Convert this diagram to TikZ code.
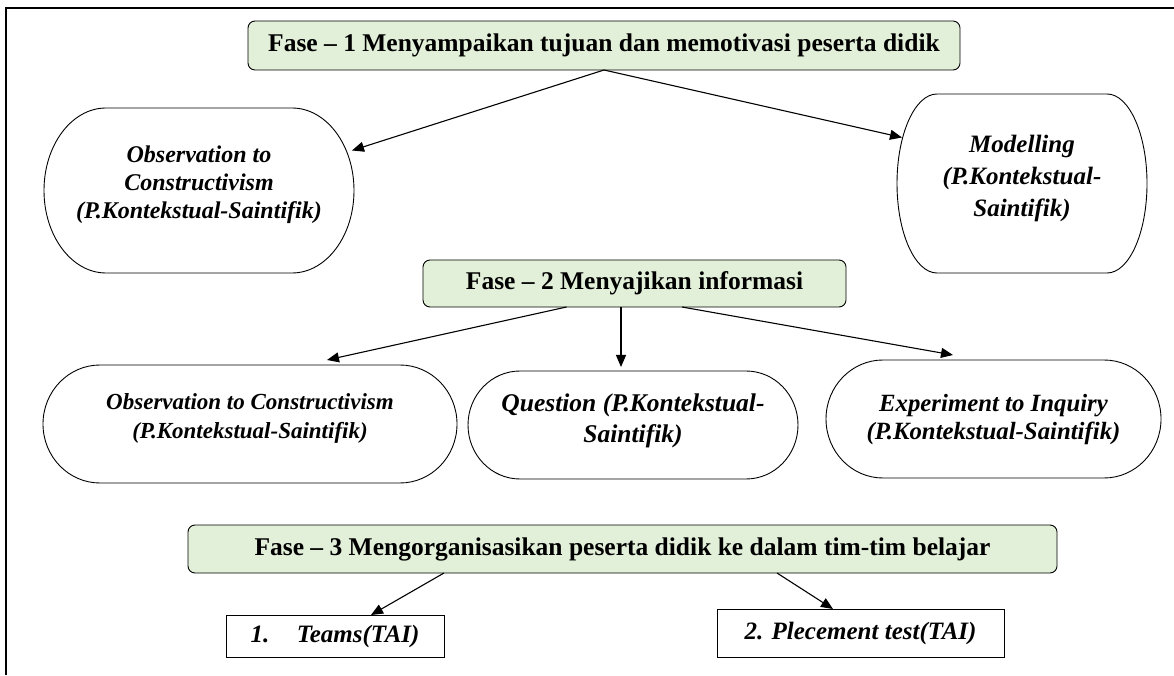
\documentclass[tikz,border=0pt]{standalone}
\usepackage{fontspec}
\setmainfont{Liberation Serif}
\usetikzlibrary{arrows.meta,calc}
\definecolor{fasegreen}{HTML}{E2EFD9}
\newcommand\stadiumshape[2]{\draw[line width=0.9pt] let \p1=(#1.north west), \p2=(#1.south east), \n1={(\y1-\y2)/2} in (\x1+#2,\y1) -- (\x2-#2,\y1) arc[start angle=90,end angle=-90,x radius=#2,y radius=\n1] -- (\x1+#2,\y2) arc[start angle=270,end angle=90,x radius=#2,y radius=\n1] -- cycle;}
\begin{document}
\begin{tikzpicture}[x=1pt,y=1pt,
  fasebox/.style={draw, line width=0.9pt, fill=fasegreen, rounded corners=7pt, inner sep=0pt, outer sep=0pt,
    font=\fontsize{25.5}{30}\selectfont\bfseries},
  ovalbox/.style={inner sep=0pt, outer sep=0pt},
  ovaltext/.style={inner sep=0pt, align=center},
  plainbox/.style={draw, line width=0.9pt, inner sep=0pt, outer sep=0pt,
    font=\fontsize{25}{30}\selectfont\bfseries\itshape},
  arr/.style={line width=1.1pt, -{Triangle[length=12pt,width=10pt]}}]
\useasboundingbox (0,0) rectangle (1174,675);
% frame
\draw[line width=1.6pt] (6,0) -- (6,667) -- (1174,667);
% phase boxes
\node[fasebox, minimum width=712, minimum height=49] (f1) at (604,629.5) {Fase -- 1 Menyampaikan tujuan dan memotivasi peserta didik};
\node[fasebox, minimum width=423, minimum height=47] (f2) at (634.5,391.5) {Fase -- 2 Menyajikan informasi};
\node[fasebox, minimum width=869, minimum height=48] (f3) at (622.5,126) {Fase -- 3 Mengorganisasikan peserta didik ke dalam tim-tim belajar};
% ovals phase 1
\node[ovalbox, minimum width=310, minimum height=165] (o1) at (199,484.5) {};
\stadiumshape{o1}{62pt}
\node[ovaltext, font=\fontsize{24}{28}\selectfont\bfseries\itshape] (o1t) at ($(o1)+(0,6)$) {Observation to\\Constructivism\\(P.Kontekstual-Saintifik)};
\node[ovalbox, minimum width=250, minimum height=179] (m) at (1022,491.5) {};
\stadiumshape{m}{40pt}
\node[ovaltext, font=\fontsize{25}{32}\selectfont\bfseries\itshape] (mt) at ($(m)+(0,5)$) {Modelling\\(P.Kontekstual-\\Saintifik)};
% ovals phase 2
\node[ovalbox, minimum width=414, minimum height=118] (o2) at (250,251) {};
\stadiumshape{o2}{57pt}
\node[ovaltext, font=\fontsize{23}{29}\selectfont\bfseries\itshape] (o2t) at ($(o2)+(0,6)$) {Observation to Constructivism\\(P.Kontekstual-Saintifik)};
\node[ovalbox, minimum width=330, minimum height=108] (q) at (633,250) {};
\stadiumshape{q}{52pt}
\node[ovaltext, font=\fontsize{25.5}{31}\selectfont\bfseries\itshape] (qt) at ($(q)+(0,4)$) {Question (P.Kontekstual-\\Saintifik)};
\node[ovalbox, minimum width=335, minimum height=118] (e) at (993.5,256) {};
\stadiumshape{e}{57pt}
\node[ovaltext, font=\fontsize{24.8}{28}\selectfont\bfseries\itshape] (et) at ($(e)+(0,-1)$) {Experiment to Inquiry\\(P.Kontekstual-Saintifik)};
% phase 3 boxes
\node[plainbox, minimum width=218, minimum height=42] (t) at (335,39) {1.\hspace{1.1em}Teams(TAI)};
\node[plainbox, minimum width=287, minimum height=48] (p) at (860.5,42) {2. Plecement test(TAI)};
% arrows
\draw[arr] (f1.south) -- ($(o1.east)+(-2,40)$);
\draw[arr] (f1.south) -- ($(m.west)+(5,46)$);
\draw[arr] ($(f2.south)+(-68,0)$) -- ($(o2.north)+(77,5)$);
\draw[arr] ($(f2.south)+(-13.5,0)$) -- ($(q.north)+(-12,4)$);
\draw[arr] ($(f2.south)+(47.5,0)$) -- ($(e.north)+(-40.5,5)$);
\draw[arr] ($(f3.south)+(-178.5,0)$) -- ($(t.north)+(36,0)$);
\draw[arr] ($(f3.south)+(154.5,0)$) -- ($(p.north)+(-27.5,0)$);
\end{tikzpicture}
\end{document}
